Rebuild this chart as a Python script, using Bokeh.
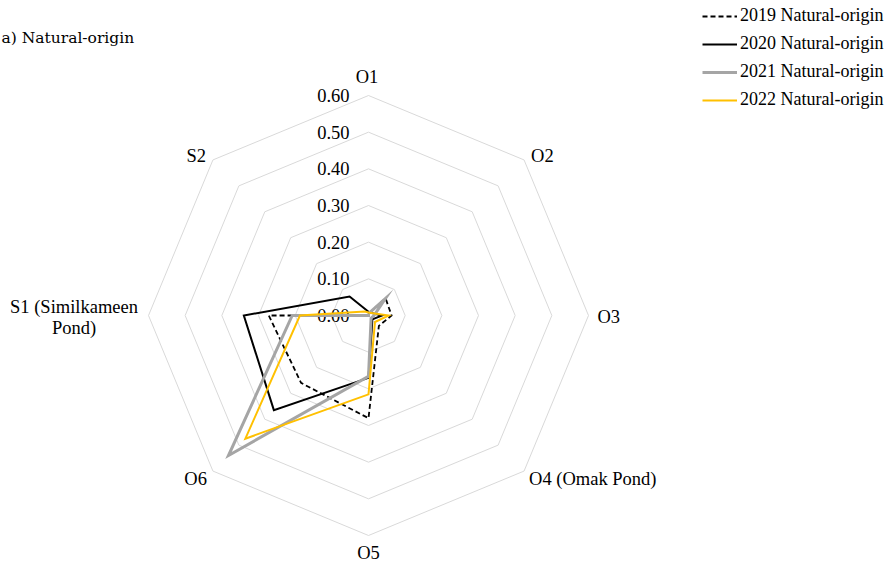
import numpy as np
from bokeh.plotting import figure
from bokeh.models import ColumnDataSource, Range1d, Legend, LegendItem, Label
from bokeh.core.properties import value
from bokeh.embed import file_html
from bokeh.resources import INLINE

# ---- data ----
categories = ["O1", "O2", "O3", "O4 (Omak Pond)", "O5", "O6", "S1 (Similkameen\nPond)", "S2"]
tick_values = [0.0, 0.1, 0.2, 0.3, 0.4, 0.5, 0.6]
tick_labels = ["0.00", "0.10", "0.20", "0.30", "0.40", "0.50", "0.60"]
series_names = ["2019 Natural-origin", "2020 Natural-origin", "2021 Natural-origin", "2022 Natural-origin"]
v2019 = [0.005, 0.066, 0.063, 0.040, 0.280, 0.260, 0.272, 0.000]
v2020 = [0.010, 0.010, 0.037, 0.015, 0.170, 0.365, 0.340, 0.073]
v2021 = [0.005, 0.065, 0.015, 0.010, 0.166, 0.540, 0.208, 0.000]
v2022 = [0.008, 0.010, 0.055, 0.025, 0.215, 0.475, 0.187, 0.015]

# ---- layout ----
W, H = 893, 563
S = 220 / 0.6          # px per unit
CX, CY = 368, 315      # center in figure px
SERIF = value("Liberation Serif")

p = figure(width=W, height=H, output_backend="svg", toolbar_location=None,
           x_range=Range1d(-CX / S, (W - CX) / S), y_range=Range1d(-(H - CY) / S, CY / S),
           x_axis_type=None, y_axis_type=None, min_border=0)
p.outline_line_color = None
p.grid.visible = False

n = len(categories)
ang = np.pi / 2 - np.arange(n) * 2 * np.pi / n   # clockwise from top
ca, sa = np.cos(ang), np.sin(ang)

# grid rings
rings = tick_values[1:]
p.multi_line(xs=[list(np.append(r * ca, r * ca[0])) for r in rings],
             ys=[list(np.append(r * sa, r * sa[0])) for r in rings],
             line_color="#d9d9d9", line_width=1)

# tick labels
p.text(x=[0] * len(tick_values), y=tick_values, text=tick_labels,
       text_font=SERIF, text_font_size="18.5px", text_align="right",
       text_baseline="middle", x_offset=-19, text_color="#000000")

# category labels
rmax = tick_values[-1]
xo = [-1.5, 7, 9, 5, 0, -6, -74.5, -7]
yo = [-18.5, -4, 1, 8, 17.5, 7.5, 1.5, -4]
al = ["center", "left", "left", "left", "center", "right", "center", "right"]
lab_src = ColumnDataSource(dict(x=rmax * ca, y=rmax * sa, text=categories,
                                xo=xo, yo=yo, al=al))
p.text(x="x", y="y", text="text", x_offset="xo", y_offset="yo", text_align="al",
       text_baseline="middle", text_font=SERIF, text_font_size="18.5px",
       text_line_height=1.05, source=lab_src, text_color="#000000")

# series
styles = [dict(line_color="#000000", line_width=1.8, line_dash="5 3"),
          dict(line_color="#000000", line_width=2),
          dict(line_color="#a5a5a5", line_width=3),
          dict(line_color="#ffc000", line_width=2)]
items = []
for name, vals, st in zip(series_names, [v2019, v2020, v2021, v2022], styles):
    v = np.array(vals)
    xs = np.append(v * ca, v[0] * ca[0])
    ys = np.append(v * sa, v[0] * sa[0])
    r = p.line(xs, ys, line_join="miter", **st)
    items.append(LegendItem(label=name, renderers=[r]))

legend = Legend(items=items, location=(702, 453), border_line_color=None,
                background_fill_alpha=0, padding=0, margin=0, spacing=7,
                glyph_width=35, glyph_height=20, label_height=20, label_standoff=3,
                label_text_font="Liberation Serif", label_text_font_size="18px",
                label_text_color="#000000", label_text_baseline="middle")
p.add_layout(legend)

p.add_layout(Label(x=1, y=H - 37, x_units="screen", y_units="screen",
                   text="a) Natural-origin", text_font="DejaVu Serif",
                   text_font_size="15.5px", text_baseline="middle",
                   text_color="#000000"))

open("out.html", "w").write(file_html(p, INLINE))
